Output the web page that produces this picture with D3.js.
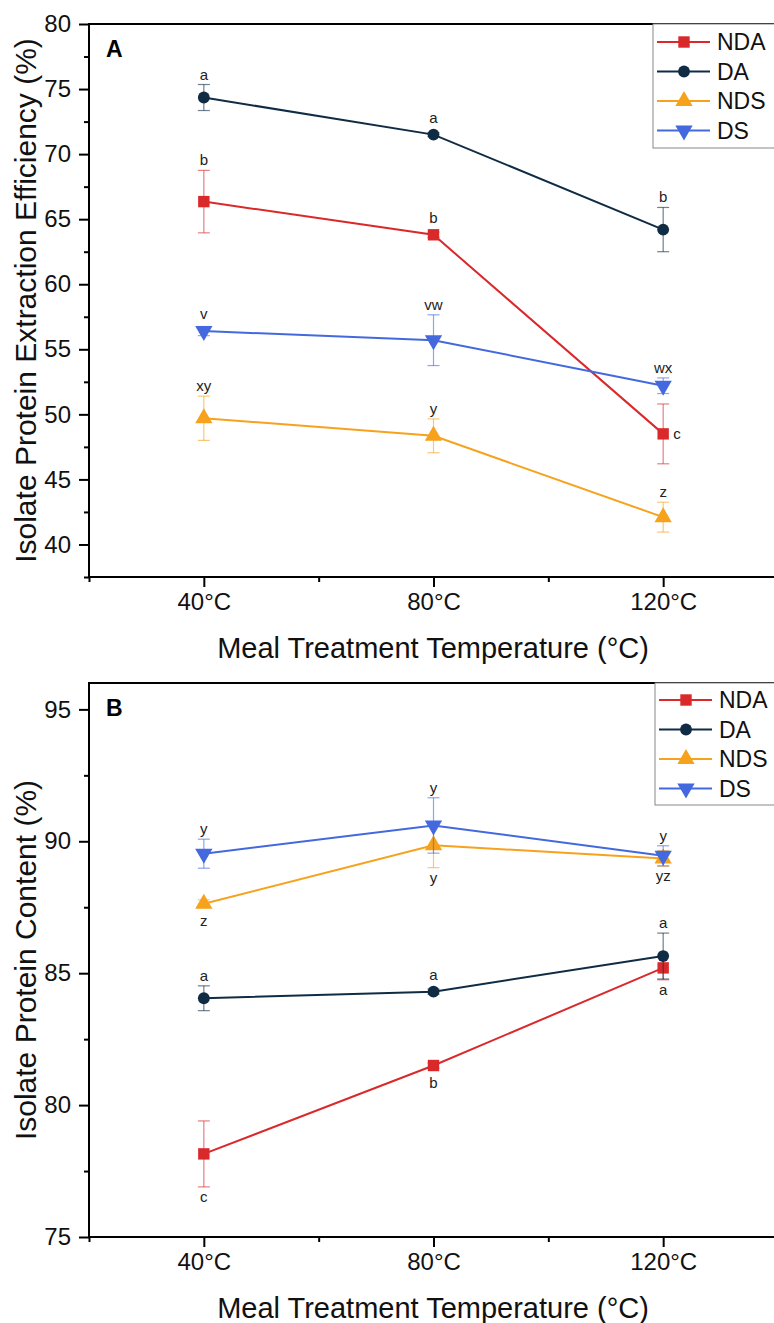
<!DOCTYPE html>
<html>
<head>
<meta charset="utf-8">
<script src="https://cdn.jsdelivr.net/npm/d3@7"></script>
<style>
  body { margin: 0; background: #fff; }
  svg { display: block; font-family: "Liberation Sans", Arial, sans-serif; }
</style>
</head>
<body>
<div id="chart"></div>
<script>
// temperatures on the x axis
var temps = [40, 80, 120];
var tempLabels = ["40°C", "80°C", "120°C"];
var seriesNames = ["NDA", "DA", "NDS", "DS"];
var colors = ["#d9292b", "#0f2c44", "#f6a21c", "#4468de"];

// panel A - extraction efficiency (%)
var effNDA = [66.35, 63.8, 48.5];
var effNDAerr = [2.4, 0.2, 2.3];
var effNDAlet = ["b", "b", "c"];
var effDA = [74.35, 71.5, 64.2];
var effDAerr = [1.0, 0.15, 1.7];
var effDAlet = ["a", "a", "b"];
var effNDS = [49.7, 48.35, 42.1];
var effNDSerr = [1.7, 1.3, 1.15];
var effNDSlet = ["xy", "y", "z"];
var effDS = [56.4, 55.7, 52.2];
var effDSerr = [0.35, 1.95, 0.6];
var effDSlet = ["v", "vw", "wx"];

// panel B - protein content (%)
var contNDA = [78.15, 81.5, 85.2];
var contNDAerr = [1.25, 0.1, 0.45];
var contNDAlet = ["c", "b", "a"];
var contDA = [84.05, 84.3, 85.65];
var contDAerr = [0.47, 0.1, 0.87];
var contDAlet = ["a", "a", "a"];
var contNDS = [87.63, 89.85, 89.35];
var contNDSerr = [0.15, 0.85, 0.3];
var contNDSlet = ["z", "y", "yz"];
var contDS = [89.53, 90.6, 89.45];
var contDSerr = [0.55, 1.05, 0.38];
var contDSlet = ["y", "y", "y"];

var yTicksA = [40, 45, 50, 55, 60, 65, 70, 75, 80];
var yTicksB = [75, 80, 85, 90, 95];

var svg = d3.select("#chart").append("svg")
    .attr("width", 774)
    .attr("height", 1323);

var x = d3.scaleLinear().domain([20, 140]).range([89, 778]);

var symbols = [d3.symbolSquare, d3.symbolCircle, d3.symbolTriangle, d3.symbolTriangle];
var symSizes = [130, 110, 130, 130];

function marker(g, i, cx, cy) {
    g.append("path")
        .attr("d", d3.symbol().type(symbols[i]).size(symSizes[i]))
        .attr("transform", "translate(" + cx + "," + cy + ")" + (i == 3 ? " rotate(180)" : ""))
        .attr("fill", colors[i]);
}

function drawPanel(p) {
    var y = d3.scaleLinear().domain(p.yDomain).range([p.bottom, p.top]);
    var g = svg.append("g");

    // frame (right side runs past the edge)
    g.append("rect")
        .attr("x", 89).attr("y", p.top)
        .attr("width", 689).attr("height", p.bottom - p.top)
        .attr("fill", "none").attr("stroke", "#000").attr("stroke-width", 2);

    // y axis
    var yMinor = d3.range(p.yDomain[0] + (p.yDomain[0] % 5 == 0 ? 2.5 : 0), p.yDomain[1], 5);
    g.append("g").attr("transform", "translate(89,0)")
        .call(d3.axisLeft(y).tickValues(yMinor).tickSize(5).tickFormat(""))
        .call(function(a) { a.select(".domain").remove(); a.selectAll("line").attr("stroke-width", 2); });
    g.append("g").attr("transform", "translate(89,0)")
        .call(d3.axisLeft(y).tickValues(p.yTicks).tickSize(10).tickPadding(8))
        .call(function(a) {
            a.select(".domain").remove();
            a.selectAll("line").attr("stroke-width", 2);
            a.selectAll("text").attr("font-size", 24).attr("fill", "#111")
                .attr("font-family", "Liberation Sans, Arial, sans-serif");
        });

    // x axis
    g.append("g").attr("transform", "translate(0," + p.bottom + ")")
        .call(d3.axisBottom(x).tickValues([20, 60, 100, 140]).tickSize(5).tickFormat(""))
        .call(function(a) { a.select(".domain").remove(); a.selectAll("line").attr("stroke-width", 2); });
    g.append("g").attr("transform", "translate(0," + p.bottom + ")")
        .call(d3.axisBottom(x).tickValues(temps).tickSize(10).tickPadding(6)
            .tickFormat(function(d, i) { return tempLabels[i]; }))
        .call(function(a) {
            a.select(".domain").remove();
            a.selectAll("line").attr("stroke-width", 2);
            a.selectAll("text").attr("font-size", 24).attr("fill", "#111")
                .attr("font-family", "Liberation Sans, Arial, sans-serif");
        });

    // axis titles
    g.append("text")
        .attr("transform", "translate(36," + ((p.top + p.bottom) / 2) + ") rotate(-90)")
        .attr("text-anchor", "middle")
        .attr("font-size", 30).attr("fill", "#111")
        .text(p.yTitle);
    g.append("text")
        .attr("x", 433).attr("y", p.bottom + 81)
        .attr("text-anchor", "middle")
        .attr("font-size", 29).attr("fill", "#111")
        .text("Meal Treatment Temperature (°C)");

    // panel letter
    g.append("text")
        .attr("x", 106).attr("y", p.top + 33)
        .attr("font-size", 23).attr("font-weight", "bold")
        .text(p.letter);

    var line = d3.line()
        .x(function(d, i) { return x(temps[i]); })
        .y(function(d) { return y(d); });

    p.series.forEach(function(s, si) {
        var sg = g.append("g");
        // error bars
        s.vals.forEach(function(v, i) {
            var cx = x(temps[i]);
            var y0 = y(v - s.err[i]), y1 = y(v + s.err[i]);
            sg.append("line").attr("x1", cx).attr("x2", cx).attr("y1", y0).attr("y2", y1)
                .attr("stroke", colors[si]).attr("stroke-opacity", 0.6).attr("stroke-width", 1.2);
            [y0, y1].forEach(function(yy) {
                sg.append("line").attr("x1", cx - 6).attr("x2", cx + 6).attr("y1", yy).attr("y2", yy)
                    .attr("stroke", colors[si]).attr("stroke-opacity", 0.6).attr("stroke-width", 1.2);
            });
        });
        sg.append("path").datum(s.vals)
            .attr("d", line)
            .attr("fill", "none")
            .attr("stroke", colors[si])
            .attr("stroke-width", 2);
        s.vals.forEach(function(v, i) {
            marker(sg, si, x(temps[i]), y(v));
        });
        // letters
        s.vals.forEach(function(v, i) {
            var cx = x(temps[i]);
            var pos = s.pos[i];
            var t = sg.append("text").attr("font-size", 15).attr("fill", "#222").text(s.let[i]);
            if (pos == "right") {
                t.attr("x", cx + 10).attr("y", y(v) + 5);
            } else if (pos == "below") {
                var yb = Math.max(y(v - s.err[i]), y(v) + 7);
                t.attr("x", cx).attr("y", yb + 15).attr("text-anchor", "middle");
            } else {
                var ya = Math.min(y(v + s.err[i]), y(v) - 7);
                t.attr("x", cx).attr("y", ya - 5).attr("text-anchor", "middle");
            }
        });
    });

    // legend
    var lg = g.append("g");
    lg.append("rect")
        .attr("x", p.legX).attr("y", p.top)
        .attr("width", 130).attr("height", p.legH)
        .attr("fill", "#fff").attr("stroke", "#888").attr("stroke-width", 1);
    seriesNames.forEach(function(n, i) {
        var ly = p.top + p.legY0 + i * p.legStep;
        lg.append("line")
            .attr("x1", p.legX + 4).attr("x2", p.legX + 57)
            .attr("y1", ly).attr("y2", ly)
            .attr("stroke", colors[i]).attr("stroke-width", 2);
        marker(lg, i, p.legX + 31, ly);
        lg.append("text")
            .attr("x", p.legX + 64).attr("y", ly + 8)
            .attr("font-size", 23).attr("fill", "#111")
            .text(n);
    });
}

drawPanel({
    top: 24, bottom: 577, yDomain: [37.5, 80], yTicks: yTicksA,
    yTitle: "Isolate Protein Extraction Efficiency (%)", letter: "A",
    legX: 653, legH: 124, legY0: 18, legStep: 29.5,
    series: [
        { vals: effNDA, err: effNDAerr, let: effNDAlet, pos: ["above", "above", "right"] },
        { vals: effDA, err: effDAerr, let: effDAlet, pos: ["above", "above", "above"] },
        { vals: effNDS, err: effNDSerr, let: effNDSlet, pos: ["above", "above", "above"] },
        { vals: effDS, err: effDSerr, let: effDSlet, pos: ["above", "above", "above"] }
    ]
});

drawPanel({
    top: 683, bottom: 1237, yDomain: [75, 96], yTicks: yTicksB,
    yTitle: "Isolate Protein Content (%)", letter: "B",
    legX: 655, legH: 122, legY0: 17, legStep: 29.5,
    series: [
        { vals: contNDA, err: contNDAerr, let: contNDAlet, pos: ["below", "below", "below"] },
        { vals: contDA, err: contDAerr, let: contDAlet, pos: ["above", "above", "above"] },
        { vals: contNDS, err: contNDSerr, let: contNDSlet, pos: ["below", "below", "below"] },
        { vals: contDS, err: contDSerr, let: contDSlet, pos: ["above", "above", "above"] }
    ]
});
</script>
</body>
</html>
